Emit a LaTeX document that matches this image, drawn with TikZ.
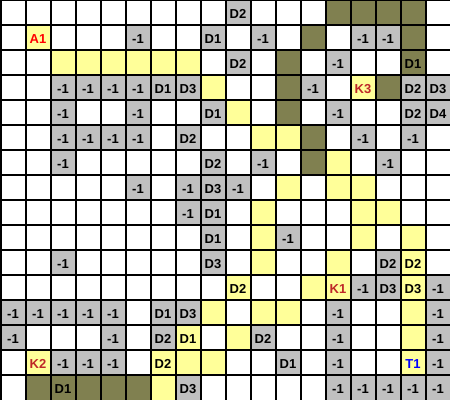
\documentclass[tikz,border=0pt]{standalone}
\usepackage{fontspec}
\setmainfont{Liberation Sans}
\definecolor{cellgray}{RGB}{192,192,192}
\definecolor{cellyellow}{RGB}{255,255,153}
\definecolor{cellolive}{RGB}{128,128,80}
\definecolor{labred}{RGB}{255,0,0}
\definecolor{labdark}{RGB}{190,40,40}
\definecolor{labblue}{RGB}{0,0,255}
\tikzset{
  cellbase/.style={minimum width=26pt, minimum height=25pt, inner sep=0pt, outer sep=0pt,
    text height=12.5pt, text depth=0pt,
    font=\fontsize{13}{15}\selectfont\bfseries, text=black},
  gcell/.style={cellbase, fill=cellgray},
  ycell/.style={cellbase, fill=cellyellow},
  ocell/.style={cellbase, fill=cellolive},
  acell/.style={ycell, text=labred},
  kcell/.style={ycell, text=labdark},
  tcell/.style={ycell, text=labblue},
  gridline/.style={line width=2pt, black}
}
\begin{document}
\begin{tikzpicture}[x=1pt,y=1pt]
\useasboundingbox (0,0) rectangle (450,-400);
\fill[white] (0,0) rectangle (450,-400);
\foreach \c/\r/\k/\t in {
 9/0/gcell/D2, 13/0/ocell/{}, 14/0/ocell/{}, 15/0/ocell/{}, 16/0/ocell/{},
 1/1/acell/A1, 5/1/gcell/-1, 8/1/gcell/D1, 10/1/gcell/-1, 12/1/ocell/{}, 14/1/gcell/-1, 15/1/gcell/-1, 16/1/ocell/{},
 2/2/ycell/{}, 3/2/ycell/{}, 4/2/ycell/{}, 5/2/ycell/{}, 6/2/ycell/{}, 7/2/ycell/{}, 9/2/gcell/D2, 11/2/ocell/{}, 13/2/gcell/-1, 16/2/ocell/D1,
 2/3/gcell/-1, 3/3/gcell/-1, 4/3/gcell/-1, 5/3/gcell/-1, 6/3/gcell/D1, 7/3/gcell/D3, 8/3/ycell/{}, 11/3/ocell/{}, 12/3/gcell/-1, 14/3/kcell/K3, 15/3/ocell/{}, 16/3/gcell/D2, 17/3/gcell/D3,
 2/4/gcell/-1, 5/4/gcell/-1, 8/4/gcell/D1, 9/4/ycell/{}, 11/4/ocell/{}, 13/4/gcell/-1, 16/4/gcell/D2, 17/4/gcell/D4,
 2/5/gcell/-1, 3/5/gcell/-1, 4/5/gcell/-1, 5/5/gcell/-1, 7/5/gcell/D2, 10/5/ycell/{}, 11/5/ycell/{}, 12/5/ocell/{}, 14/5/gcell/-1, 16/5/gcell/-1,
 2/6/gcell/-1, 8/6/gcell/D2, 10/6/gcell/-1, 12/6/ocell/{}, 13/6/ycell/{}, 15/6/gcell/-1,
 5/7/gcell/-1, 7/7/gcell/-1, 8/7/gcell/D3, 9/7/gcell/-1, 11/7/ycell/{}, 13/7/ycell/{}, 14/7/ycell/{},
 7/8/gcell/-1, 8/8/gcell/D1, 10/8/ycell/{}, 14/8/ycell/{}, 15/8/ycell/{},
 8/9/gcell/D1, 10/9/ycell/{}, 11/9/gcell/-1, 14/9/ycell/{}, 16/9/ycell/{},
 2/10/gcell/-1, 8/10/gcell/D3, 10/10/ycell/{}, 13/10/ycell/{}, 15/10/gcell/D2, 16/10/ycell/D2,
 9/11/ycell/D2, 12/11/ycell/{}, 13/11/kcell/K1, 14/11/gcell/-1, 15/11/gcell/D3, 16/11/ycell/D3, 17/11/gcell/-1,
 0/12/gcell/-1, 1/12/gcell/-1, 2/12/gcell/-1, 3/12/gcell/-1, 4/12/gcell/-1, 6/12/gcell/D1, 7/12/gcell/D3, 8/12/ycell/{}, 10/12/ycell/{}, 11/12/ycell/{}, 13/12/gcell/-1, 16/12/ycell/{}, 17/12/gcell/-1,
 0/13/gcell/-1, 4/13/gcell/-1, 6/13/gcell/D2, 7/13/ycell/D1, 9/13/ycell/{}, 10/13/gcell/D2, 13/13/gcell/-1, 16/13/ycell/{}, 17/13/gcell/-1,
 1/14/kcell/K2, 2/14/gcell/-1, 3/14/gcell/-1, 4/14/gcell/-1, 6/14/ycell/D2, 7/14/ycell/{}, 8/14/ycell/{}, 11/14/gcell/D1, 13/14/gcell/-1, 16/14/tcell/T1, 17/14/gcell/-1,
 1/15/ocell/{}, 2/15/ocell/D1, 3/15/ocell/{}, 4/15/ocell/{}, 5/15/ocell/{}, 6/15/ycell/{}, 7/15/gcell/D3, 13/15/gcell/-1, 14/15/gcell/-1, 15/15/gcell/-1, 16/15/gcell/-1, 17/15/gcell/-1
}{
  \node[\k] (cell-\c-\r) at ({25*\c+13},{-25*\r-12.5}) {\t};
}
\foreach \i in {0,...,17}{
  \draw[gridline] ({25*\i+1},0) -- ({25*\i+1},-400);
}
\foreach \j in {0,...,15}{
  \draw[gridline] (0,{-25*\j}) -- (450,{-25*\j});
}
\end{tikzpicture}
\end{document}
